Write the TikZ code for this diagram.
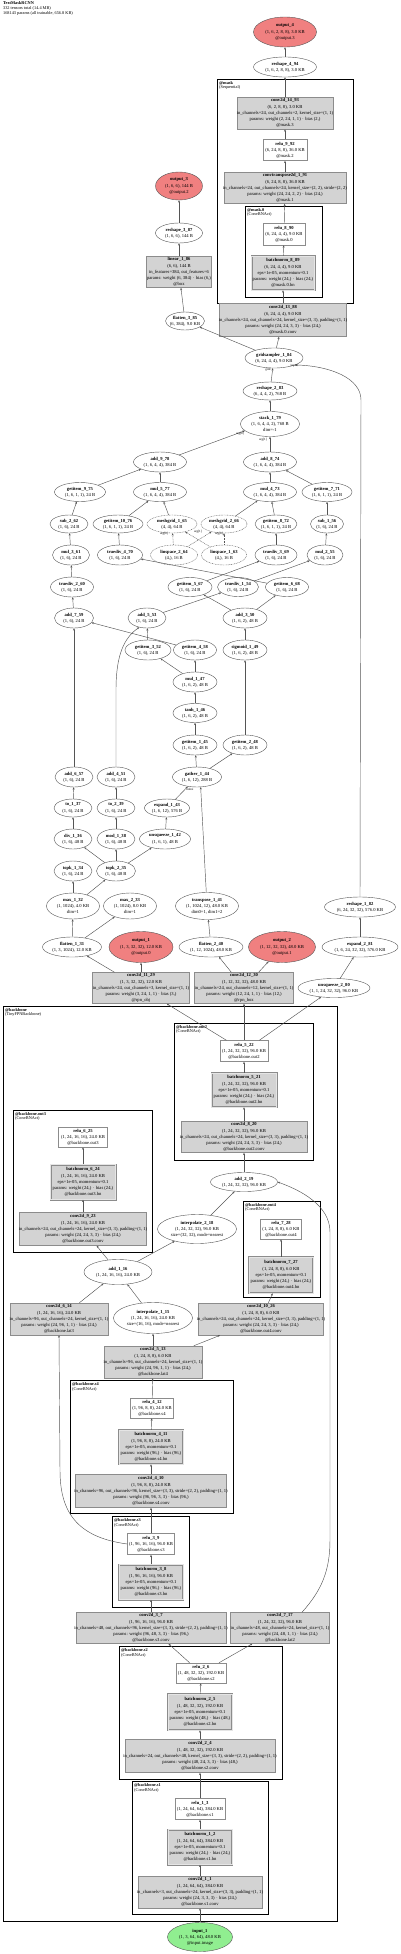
\documentclass[tikz,border=0pt]{standalone}
\usepackage{fontspec}
\setmainfont{Liberation Serif}
\usetikzlibrary{shapes.geometric,arrows.meta,calc}
\definecolor{boxfill}{HTML}{D3D3D3}
\definecolor{boxdraw}{HTML}{8C8C8C}
\definecolor{ellred}{HTML}{F08080}
\definecolor{ellgreen}{HTML}{90EE90}
\definecolor{edgecol}{HTML}{555555}
\tikzset{
  txt/.style={inner sep=0pt, align=center, font=\fontsize{4.6}{6.1}\selectfont},
  modbox/.style={rectangle, draw=boxdraw, fill=boxfill, line width=0.5pt, inner sep=0pt},
  relubox/.style={rectangle, draw=boxdraw, fill=white, line width=0.5pt, inner sep=0pt},
  bnbox/.style={rectangle, draw=boxdraw, fill=boxfill, double=boxfill!60, double distance=1pt, line width=0.5pt, inner sep=0pt},
  fn/.style={ellipse, draw=edgecol, fill=white, line width=0.4pt, inner sep=0pt},
  fndot/.style={fn, dash pattern=on 0.8pt off 0.8pt},
  outell/.style={fn, fill=ellred},
  inell/.style={fn, fill=ellgreen},
  cluster/.style={draw=black, line width=1.2pt},
  clab/.style={anchor=north west, inner sep=0pt, align=left, font=\fontsize{4.3}{4.8}\selectfont},
  edge/.style={draw=edgecol, line width=0.45pt, -{Stealth[length=2.4pt,width=2pt]}},
  edot/.style={edge, dash pattern=on 0.8pt off 0.8pt},
  elab/.style={font=\fontsize{3.2}{3.5}\selectfont, inner sep=0pt},
}
\newcommand{\Nd}[7]{\node[#1, minimum width=#5pt, minimum height=#6pt] (#2) at (#3,#4) {};
  \node[txt] (#2-t) at (#2) {#7};}
\newcommand{\Cl}[7]{\node[cluster, rectangle, inner sep=0pt, minimum width=#4pt, minimum height=#5pt, anchor=north west] (#1) at (#2,#3) {};
  \node[clab] (#1-l) at ([xshift=2pt,yshift=-2pt]#1.north west) {\textbf{#6}\\#7};}
\begin{document}
\begin{tikzpicture}[x=1pt,y=-1pt]
\useasboundingbox (0,0) rectangle (400,1954);
% title
\node[anchor=north west, inner sep=0pt, align=left, font=\fontsize{4.3}{4.8}\selectfont] (title) at (3,1.5)
  {\textbf{TextMaskRCNN}\\332 tensors total (14.4 MB)\\168143 params (all trainable, 656.8 KB)};
% clusters
\Cl{cmask}{217}{79}{136}{224}{@mask}{(Sequential)}
\Cl{cmask0}{245}{206}{77}{91}{@mask.0}{(ConvBNAct)}
\Cl{cbb}{3}{1006}{334}{915}{@backbone}{(TinyFPNBackbone)}
\Cl{cout2}{174}{1023}{139}{137}{@backbone.out2}{(ConvBNAct)}
\Cl{cout3}{13}{1110}{139}{142}{@backbone.out3}{(ConvBNAct)}
\Cl{cout4}{243}{1201}{77}{96}{@backbone.out4}{(ConvBNAct)}
\Cl{cs4}{70}{1380}{163}{133}{@backbone.s4}{(ConvBNAct)}
\Cl{cs3}{112}{1516}{77}{91}{@backbone.s3}{(ConvBNAct)}
\Cl{cs2}{119}{1646}{163}{133}{@backbone.s2}{(ConvBNAct)}
\Cl{cs1}{132}{1781}{136}{133}{@backbone.s1}{(ConvBNAct)}
% ---- mask head
\Nd{outell}{out4}{285}{32}{63}{30}{\textbf{output\_4}\\(1, 6, 2, 8, 8), 3.0 KB\\@output.3}
\Nd{fn}{resh4}{285}{67}{63}{20}{\textbf{reshape\_4\_94}\\(1, 6, 2, 8, 8), 3.0 KB}
\Nd{modbox}{conv14}{285}{113}{96}{32}{\textbf{conv2d\_14\_93}\\(6, 2, 8, 8), 3.0 KB\\in\_channels=24, out\_channels=2, kernel\_size=(1, 1)\\params: weight (2, 24, 1, 1) $\cdot$ bias (2,)\\@mask.3}
\Nd{relubox}{relu9}{285}{150}{44}{21}{\textbf{relu\_9\_92}\\(6, 24, 8, 8), 36.0 KB\\@mask.2}
\Nd{modbox}{convT}{285}{188}{122}{31}{\textbf{convtranspose2d\_1\_91}\\(6, 24, 8, 8), 36.0 KB\\in\_channels=24, out\_channels=24, kernel\_size=(2, 2), stride=(2, 2)\\params: weight (24, 24, 2, 2) $\cdot$ bias (24,)\\@mask.1}
\Nd{relubox}{relu8}{284}{234}{42}{22}{\textbf{relu\_8\_90}\\(6, 24, 4, 4), 9.0 KB\\@mask.0}
\Nd{bnbox}{bn8}{283}{273}{63}{34}{\textbf{batchnorm\_8\_89}\\(6, 24, 4, 4), 9.0 KB\\eps=1e-05, momentum=0.1\\params: weight (24,) $\cdot$ bias (24,)\\@mask.0.bn}
\Nd{modbox}{conv13}{283}{320}{127}{33}{\textbf{conv2d\_13\_88}\\(6, 24, 4, 4), 9.0 KB\\in\_channels=24, out\_channels=24, kernel\_size=(3, 3), padding=(1, 1)\\params: weight (24, 24, 3, 3) $\cdot$ bias (24,)\\@mask.0.conv}
% ---- box head
\Nd{outell}{out3}{179}{186}{47}{28}{\textbf{output\_3}\\(1, 6, 6), 144 B\\@output.2}
\Nd{fn}{resh3}{179}{233}{47}{20}{\textbf{reshape\_3\_87}\\(1, 6, 6), 144 B}
\Nd{modbox}{lin1}{179}{272}{65}{31}{\textbf{linear\_1\_86}\\(6, 6), 144 B\\in\_features=384, out\_features=6\\params: weight (6, 384) $\cdot$ bias (6,)\\@box}
\Nd{fn}{flat3}{185}{321}{39}{18}{\textbf{flatten\_3\_85}\\(6, 384), 9.0 KB}
\Nd{fn}{grid1}{274}{358}{58}{20}{\textbf{gridsampler\_1\_84}\\(6, 24, 4, 4), 9.0 KB}
\Nd{fn}{resh2}{270}{391}{54}{18}{\textbf{reshape\_2\_83}\\(6, 4, 4, 2), 768 B}
\Nd{fn}{stack1}{270}{424}{59}{25}{\textbf{stack\_1\_79}\\(1, 6, 4, 4, 2), 768 B\\dim=-1}
\Nd{fn}{add9}{160}{462}{53}{20}{\textbf{add\_9\_78}\\(1, 6, 4, 4), 384 B}
\Nd{fn}{add8}{270}{462}{53}{20}{\textbf{add\_8\_74}\\(1, 6, 4, 4), 384 B}
\Nd{fn}{gi9}{80}{492}{51}{19}{\textbf{getitem\_9\_75}\\(1, 6, 1, 1), 24 B}
\Nd{fn}{mul5}{160}{492}{53}{19}{\textbf{mul\_5\_77}\\(1, 6, 4, 4), 384 B}
\Nd{fn}{mul4}{270}{492}{53}{19}{\textbf{mul\_4\_73}\\(1, 6, 4, 4), 384 B}
\Nd{fn}{gi7}{327}{492}{50}{19}{\textbf{getitem\_7\_71}\\(1, 6, 1, 1), 24 B}
\Nd{fn}{sub2}{69}{524}{38}{18}{\textbf{sub\_2\_62}\\(1, 6), 24 B}
\Nd{fn}{gi10}{118}{524}{50}{18}{\textbf{getitem\_10\_76}\\(1, 6, 1, 1), 24 B}
\Nd{fndot}{mesh1}{172}{524}{50}{18}{\textbf{meshgrid\_1\_65}\\(4, 4), 64 B}
\Nd{fndot}{mesh2}{224}{524}{46}{18}{\textbf{meshgrid\_2\_66}\\(4, 4), 64 B}
\Nd{fn}{gi8}{276}{524}{42}{18}{\textbf{getitem\_8\_72}\\(1, 6, 1, 1), 24 B}
\Nd{fn}{sub1}{327}{524}{33}{18}{\textbf{sub\_1\_56}\\(1, 6), 24 B}
\Nd{fn}{mul3}{71}{555}{37}{20}{\textbf{mul\_3\_61}\\(1, 6), 24 B}
\Nd{fn}{tdiv4}{120}{555}{45}{20}{\textbf{truediv\_4\_70}\\(1, 6), 24 B}
\Nd{fndot}{lsp2}{174}{555}{47}{20}{\textbf{linspace\_2\_64}\\(4,), 16 B}
\Nd{fndot}{lsp1}{224}{555}{45}{20}{\textbf{linspace\_1\_63}\\(4,), 16 B}
\Nd{fn}{tdiv3}{276}{555}{42}{20}{\textbf{truediv\_3\_69}\\(1, 6), 24 B}
\Nd{fn}{mul2}{325}{555}{36}{20}{\textbf{mul\_2\_55}\\(1, 6), 24 B}
\Nd{fn}{tdiv2}{72}{587}{43}{20}{\textbf{truediv\_2\_60}\\(1, 6), 24 B}
\Nd{fn}{gi5}{190}{587}{44}{19}{\textbf{getitem\_5\_67}\\(1, 6), 24 B}
\Nd{fn}{tdiv1}{238}{587}{41}{19}{\textbf{truediv\_1\_54}\\(1, 6), 24 B}
\Nd{fn}{gi6}{287}{587}{43}{19}{\textbf{getitem\_6\_68}\\(1, 6), 24 B}
\Nd{fn}{add7}{74}{618}{39}{20}{\textbf{add\_7\_59}\\(1, 6), 24 B}
\Nd{fn}{add5}{147}{618}{38}{20}{\textbf{add\_5\_53}\\(1, 6), 24 B}
\Nd{fn}{add3}{245}{618}{44}{20}{\textbf{add\_3\_50}\\(1, 6, 2), 48 B}
\Nd{fn}{gi3}{148}{650}{46}{20}{\textbf{getitem\_3\_52}\\(1, 6), 24 B}
\Nd{fn}{gi4}{195}{650}{43}{20}{\textbf{getitem\_4\_58}\\(1, 6), 24 B}
\Nd{fn}{sig1}{245}{650}{44}{20}{\textbf{sigmoid\_1\_49}\\(1, 6, 2), 48 B}
\Nd{fn}{mul1}{195}{682}{44}{20}{\textbf{mul\_1\_47}\\(1, 6, 2), 48 B}
\Nd{fn}{tanh1}{195}{713}{44}{19}{\textbf{tanh\_1\_46}\\(1, 6, 2), 48 B}
\Nd{fn}{gi1}{195}{745}{44}{20}{\textbf{getitem\_1\_45}\\(1, 6, 2), 48 B}
\Nd{fn}{gi2}{245}{745}{44}{20}{\textbf{getitem\_2\_48}\\(1, 6, 2), 48 B}
\Nd{fn}{add6}{74}{777}{38}{20}{\textbf{add\_6\_57}\\(1, 6), 24 B}
\Nd{fn}{add4}{116}{777}{38}{20}{\textbf{add\_4\_51}\\(1, 6), 24 B}
\Nd{fn}{gather1}{197}{777}{49}{20}{\textbf{gather\_1\_44}\\(1, 6, 12), 288 B}
\Nd{fn}{to1}{73}{808}{38}{18}{\textbf{to\_1\_37}\\(1, 6), 24 B}
\Nd{fn}{to2}{116}{808}{38}{18}{\textbf{to\_2\_39}\\(1, 6), 24 B}
\Nd{fn}{exp1}{167}{808}{45}{18}{\textbf{expand\_1\_43}\\(1, 6, 12), 576 B}
\Nd{fn}{div1}{73}{839}{38}{20}{\textbf{div\_1\_36}\\(1, 6), 48 B}
\Nd{fn}{mod1}{116}{839}{38}{20}{\textbf{mod\_1\_38}\\(1, 6), 48 B}
\Nd{fn}{unsq1}{165}{839}{51}{20}{\textbf{unsqueeze\_1\_42}\\(1, 6, 1), 48 B}
\Nd{fn}{topk1}{73}{871}{38}{20}{\textbf{topk\_1\_34}\\(1, 6), 24 B}
\Nd{fn}{topk2}{116}{871}{39}{20}{\textbf{topk\_2\_35}\\(1, 6), 48 B}
\Nd{fn}{max1}{73}{906}{53}{26}{\textbf{max\_1\_32}\\(1, 1024), 4.0 KB\\dim=1}
\Nd{fn}{max2}{130}{906}{53}{26}{\textbf{max\_2\_33}\\(1, 1024), 8.0 KB\\dim=1}
\Nd{fn}{transp1}{207}{906}{63}{27}{\textbf{transpose\_1\_41}\\(1, 1024, 12), 48.0 KB\\dim0=1, dim1=2}
\Nd{fn}{resh1}{360}{907}{71}{20}{\textbf{reshape\_1\_82}\\(6, 24, 32, 32), 576.0 KB}
\Nd{fn}{flat1}{72}{947}{59}{20}{\textbf{flatten\_1\_31}\\(1, 3, 1024), 12.0 KB}
\Nd{outell}{out1}{141}{947}{64}{31}{\textbf{output\_1}\\(1, 3, 32, 32), 12.0 KB\\@output.0}
\Nd{fn}{flat2}{211}{947}{64}{20}{\textbf{flatten\_2\_40}\\(1, 12, 1024), 48.0 KB}
\Nd{outell}{out2}{282}{947}{67}{31}{\textbf{output\_2}\\(1, 12, 32, 32), 48.0 KB\\@output.1}
\Nd{fn}{exp2}{360}{947}{76}{20}{\textbf{expand\_2\_81}\\(1, 6, 24, 32, 32), 576.0 KB}
\Nd{modbox}{conv11}{141}{988}{97}{31}{\textbf{conv2d\_11\_29}\\(1, 3, 32, 32), 12.0 KB\\in\_channels=24, out\_channels=3, kernel\_size=(1, 1)\\params: weight (3, 24, 1, 1) $\cdot$ bias (3,)\\@rpn\_obj}
\Nd{modbox}{conv12}{244}{988}{99}{31}{\textbf{conv2d\_12\_30}\\(1, 12, 32, 32), 48.0 KB\\in\_channels=24, out\_channels=12, kernel\_size=(1, 1)\\params: weight (12, 24, 1, 1) $\cdot$ bias (12,)\\@rpn\_box}
\Nd{fn}{unsq2}{334}{988}{72}{19}{\textbf{unsqueeze\_2\_80}\\(1, 1, 24, 32, 32), 96.0 KB}
% ---- backbone
\Nd{relubox}{relu5}{244}{1051}{48}{21}{\textbf{relu\_5\_22}\\(1, 24, 32, 32), 96.0 KB\\@backbone.out2}
\Nd{bnbox}{bn5}{244}{1090}{65}{34}{\textbf{batchnorm\_5\_21}\\(1, 24, 32, 32), 96.0 KB\\eps=1e-05, momentum=0.1\\params: weight (24,) $\cdot$ bias (24,)\\@backbone.out2.bn}
\Nd{modbox}{conv8}{244}{1137}{126}{31}{\textbf{conv2d\_8\_20}\\(1, 24, 32, 32), 96.0 KB\\in\_channels=24, out\_channels=24, kernel\_size=(3, 3), padding=(1, 1)\\params: weight (24, 24, 3, 3) $\cdot$ bias (24,)\\@backbone.out2.conv}
\Nd{relubox}{relu6}{83}{1137}{49}{20}{\textbf{relu\_6\_25}\\(1, 24, 16, 16), 24.0 KB\\@backbone.out3}
\Nd{bnbox}{bn6}{83}{1182}{65}{35}{\textbf{batchnorm\_6\_24}\\(1, 24, 16, 16), 24.0 KB\\eps=1e-05, momentum=0.1\\params: weight (24,) $\cdot$ bias (24,)\\@backbone.out3.bn}
\Nd{modbox}{conv9}{83}{1229}{127}{33}{\textbf{conv2d\_9\_23}\\(1, 24, 16, 16), 24.0 KB\\in\_channels=24, out\_channels=24, kernel\_size=(3, 3), padding=(1, 1)\\params: weight (24, 24, 3, 3) $\cdot$ bias (24,)\\@backbone.out3.conv}
\Nd{fn}{add2}{244}{1182}{67}{19}{\textbf{add\_2\_19}\\(1, 24, 32, 32), 96.0 KB}
\Nd{relubox}{relu7}{281}{1229}{41}{20}{\textbf{relu\_7\_28}\\(1, 24, 8, 8), 6.0 KB\\@backbone.out4}
\Nd{bnbox}{bn7}{281}{1275}{64}{36}{\textbf{batchnorm\_7\_27}\\(1, 24, 8, 8), 6.0 KB\\eps=1e-05, momentum=0.1\\params: weight (24,) $\cdot$ bias (24,)\\@backbone.out4.bn}
\Nd{fn}{interp2}{197}{1229}{79}{29}{\textbf{interpolate\_2\_18}\\(1, 24, 32, 32), 96.0 KB\\size=(32, 32), mode=nearest}
\Nd{fn}{add1}{118}{1272}{68}{25}{\textbf{add\_1\_16}\\(1, 24, 16, 16), 24.0 KB}
\Nd{modbox}{conv6}{59}{1319}{98}{32}{\textbf{conv2d\_6\_14}\\(1, 24, 16, 16), 24.0 KB\\in\_channels=96, out\_channels=24, kernel\_size=(1, 1)\\params: weight (24, 96, 1, 1) $\cdot$ bias (24,)\\@backbone.lat3}
\Nd{fn}{interp1}{153}{1318}{79}{31}{\textbf{interpolate\_1\_15}\\(1, 24, 16, 16), 24.0 KB\\size=(16, 16), mode=nearest}
\Nd{modbox}{conv10}{261}{1319}{125}{32}{\textbf{conv2d\_10\_26}\\(1, 24, 8, 8), 6.0 KB\\in\_channels=24, out\_channels=24, kernel\_size=(3, 3), padding=(1, 1)\\params: weight (24, 24, 3, 3) $\cdot$ bias (24,)\\@backbone.out4.conv}
\Nd{modbox}{conv5}{153}{1362}{98}{32}{\textbf{conv2d\_5\_13}\\(1, 24, 8, 8), 6.0 KB\\in\_channels=96, out\_channels=24, kernel\_size=(1, 1)\\params: weight (24, 96, 1, 1) $\cdot$ bias (24,)\\@backbone.lat4}
\Nd{relubox}{relu4}{152}{1408}{43}{20}{\textbf{relu\_4\_12}\\(1, 96, 8, 8), 24.0 KB\\@backbone.s4}
\Nd{bnbox}{bn4}{151}{1447}{64}{34}{\textbf{batchnorm\_4\_11}\\(1, 96, 8, 8), 24.0 KB\\eps=1e-05, momentum=0.1\\params: weight (96,) $\cdot$ bias (96,)\\@backbone.s4.bn}
\Nd{modbox}{conv4}{151}{1491}{151}{33}{\textbf{conv2d\_4\_10}\\(1, 96, 8, 8), 24.0 KB\\in\_channels=96, out\_channels=96, kernel\_size=(3, 3), stride=(2, 2), padding=(1, 1)\\params: weight (96, 96, 3, 3) $\cdot$ bias (96,)\\@backbone.s4.conv}
\Nd{relubox}{relu3}{151}{1544}{47}{21}{\textbf{relu\_3\_9}\\(1, 96, 16, 16), 96.0 KB\\@backbone.s3}
\Nd{bnbox}{bn3}{151}{1582}{64}{35}{\textbf{batchnorm\_3\_8}\\(1, 96, 16, 16), 96.0 KB\\eps=1e-05, momentum=0.1\\params: weight (96,) $\cdot$ bias (96,)\\@backbone.s3.bn}
\Nd{modbox}{conv3}{151}{1628}{150}{31}{\textbf{conv2d\_3\_7}\\(1, 96, 16, 16), 96.0 KB\\in\_channels=48, out\_channels=96, kernel\_size=(3, 3), stride=(2, 2), padding=(1, 1)\\params: weight (96, 48, 3, 3) $\cdot$ bias (96,)\\@backbone.s3.conv}
\Nd{modbox}{conv7}{280}{1628}{99}{31}{\textbf{conv2d\_7\_17}\\(1, 24, 32, 32), 96.0 KB\\in\_channels=48, out\_channels=24, kernel\_size=(1, 1)\\params: weight (24, 48, 1, 1) $\cdot$ bias (24,)\\@backbone.lat2}
\Nd{relubox}{relu2}{201}{1673}{50}{20}{\textbf{relu\_2\_6}\\(1, 48, 32, 32), 192.0 KB\\@backbone.s2}
\Nd{bnbox}{bn2}{200}{1712}{64}{36}{\textbf{batchnorm\_2\_5}\\(1, 48, 32, 32), 192.0 KB\\eps=1e-05, momentum=0.1\\params: weight (48,) $\cdot$ bias (48,)\\@backbone.s2.bn}
\Nd{modbox}{conv2}{200}{1756}{150}{33}{\textbf{conv2d\_2\_4}\\(1, 48, 32, 32), 192.0 KB\\in\_channels=24, out\_channels=48, kernel\_size=(3, 3), stride=(2, 2), padding=(1, 1)\\params: weight (48, 24, 3, 3) $\cdot$ bias (48,)\\@backbone.s2.conv}
\Nd{relubox}{relu1}{200}{1809}{50}{21}{\textbf{relu\_1\_3}\\(1, 24, 64, 64), 384.0 KB\\@backbone.s1}
\Nd{bnbox}{bn1}{200}{1847}{64}{35}{\textbf{batchnorm\_1\_2}\\(1, 24, 64, 64), 384.0 KB\\eps=1e-05, momentum=0.1\\params: weight (24,) $\cdot$ bias (24,)\\@backbone.s1.bn}
\Nd{modbox}{conv1}{200}{1892}{124}{32}{\textbf{conv2d\_1\_1}\\(1, 24, 64, 64), 384.0 KB\\in\_channels=3, out\_channels=24, kernel\_size=(3, 3), padding=(1, 1)\\params: weight (24, 3, 3, 3) $\cdot$ bias (24,)\\@backbone.s1.conv}
\Nd{inell}{in1}{200}{1937}{65}{29}{\textbf{input\_1}\\(1, 3, 64, 64), 48.0 KB\\@input.image}
% ---- edges
\draw[edge] (resh4) -- (out4);
\draw[edge] (conv14) -- (resh4);
\draw[edge] (relu9) -- (conv14);
\draw[edge] (convT) -- (relu9);
\draw[edge] (relu8) -- (convT);
\draw[edge] (bn8) -- (relu8);
\draw[edge] (conv13) -- (bn8);
\draw[edge] (grid1) -- (conv13);
\draw[edge] (resh3) -- (out3);
\draw[edge] (lin1) -- (resh3);
\draw[edge] (flat3) -- (lin1);
\draw[edge] (grid1) -- (flat3);
\draw[edge] (resh2) -- (grid1);
\coordinate (gsr) at (361,400);
\draw[edge] (resh1.north) -- (gsr) .. controls (361,378) and (330,366) .. (grid1.-18);
\draw[edge] (stack1) -- (resh2);
\draw[edge] (add9) -- (stack1.-165);
\draw[edge] (add8) -- (stack1);
\draw[edge] (gi9) -- (add9);
\draw[edge] (mul5) -- (add9);
\draw[edge] (mul4) -- (add8);
\draw[edge] (gi7) -- (add8);
\draw[edge] (sub2) -- (gi9);
\draw[edge] (gi10) -- (mul5);
\draw[edge] (mesh1) -- (mul5);
\draw[edge] (gi8) -- (mul4);
\draw[edge] (mesh2) -- (mul4);
\draw[edge] (sub1) -- (gi7);
\draw[edge] (mul3) -- (sub2);
\draw[edge] (tdiv4) -- (gi10);
\draw[edot] (lsp2) -- (mesh1);
\draw[edot] (lsp1) -- (mesh1);
\draw[edot] (lsp2) -- (mesh2);
\draw[edot] (lsp1) -- (mesh2);
\draw[edge] (tdiv3) -- (gi8);
\draw[edge] (mul2) -- (sub1);
\draw[edge] (tdiv2) -- (mul3);
\draw[edge] (gi6) -- (tdiv4);
\draw[edge] (gi5) -- (tdiv3);
\draw[edge] (tdiv1) -- (mul2);
\draw[edge] (add7) -- (tdiv2);
\draw[edge] (add3) -- (gi5);
\draw[edge] (add3) -- (gi6);
\draw[edge] (add5) -- (tdiv1);
\draw[edge] (add6) -- (add7);
\draw[edge] (gi4) -- (add7);
\draw[edge] (gi3) -- (add5);
\draw[edge] (add4.north) -- (116,690) .. controls (116,655) and (124,638) .. (add5.-130);
\draw[edge] (sig1) -- (add3);
\draw[edge] (mul1) -- (gi3);
\draw[edge] (mul1) -- (gi4);
\draw[edge] (gi2) -- (sig1);
\draw[edge] (tanh1) -- (mul1);
\draw[edge] (gi1) -- (tanh1);
\draw[edge] (gather1) -- (gi1);
\draw[edge] (gather1) -- (gi2);
\draw[edge] (to1) -- (add6);
\draw[edge] (to2) -- (add4);
\draw[edge] (exp1) -- (gather1);
\draw[edge] (transp1) -- (gather1.-70);
\draw[edge] (div1) -- (to1);
\draw[edge] (mod1) -- (to2);
\draw[edge] (unsq1) -- (exp1);
\draw[edge] (topk2) -- (div1);
\draw[edge] (topk2) -- (mod1);
\draw[edge] (topk2) -- (unsq1);
\draw[edge] (max1) -- (topk1);
\draw[edge] (max1) -- (topk2);
\draw[edge] (flat1) -- (max1);
\draw[edge] (flat1) -- (max2);
\draw[edge] (flat2) -- (transp1);
\draw[edge] (conv11) -- (flat1);
\draw[edge] (conv11) -- (out1);
\draw[edge] (conv12) -- (flat2);
\draw[edge] (conv12) -- (out2);
\draw[edge] (exp2) -- (resh1);
\draw[edge] (unsq2) -- (exp2);
\draw[edge] (relu5) -- (conv11);
\draw[edge] (relu5) -- (conv12);
\draw[edge] (relu5) -- (unsq2);
\draw[edge] (bn5) -- (relu5);
\draw[edge] (conv8) -- (bn5);
\draw[edge] (add2) -- (conv8);
\draw[edge] (bn6) -- (relu6);
\draw[edge] (conv9) -- (bn6);
\draw[edge] (add1) -- (conv9);
\draw[edge] (interp2) -- (add2);
\draw[edge] ([xshift=22pt]conv7.north) .. controls (322,1590) and (330,1570) .. (330,1540) -- (330,1232) .. controls (330,1205) and (300,1190) .. (add2.east);
\draw[edge] (bn7) -- (relu7);
\draw[edge] (conv10) -- (bn7);
\draw[edge] (add1) -- (interp2);
\draw[edge] (conv6) -- (add1);
\draw[edge] (interp1) -- (add1);
\draw[edge] (conv5) -- (interp1);
\draw[edge] (conv5) -- (conv10);
\draw[edge] (relu4) -- (conv5);
\draw[edge] (bn4) -- (relu4);
\draw[edge] (conv4) -- (bn4);
\draw[edge] (relu3) -- (conv4);
\draw[edge] (relu3.west) .. controls (75,1537) and (60,1510) .. (60,1470) -- (conv6.south);
\draw[edge] (bn3) -- (relu3);
\draw[edge] (conv3) -- (bn3);
\draw[edge] (relu2) -- (conv3);
\draw[edge] (relu2) -- (conv7);
\draw[edge] (bn2) -- (relu2);
\draw[edge] (conv2) -- (bn2);
\draw[edge] (relu1) -- (conv2);
\draw[edge] (bn1) -- (relu1);
\draw[edge] (conv1) -- (bn1);
\draw[edge] (in1) -- (conv1);
% edge labels
\node[elab] (l-g1) at (268,370) {grid};
\node[elab] (l-g2) at (294,366) {input};
\node[elab] (l-s1) at (240,434) {arg[0]};
\node[elab] (l-s2) at (263,440) {arg[1]};
\node[elab] (l-m1) at (164,534) {arg[0]};
\node[elab] (l-m2) at (219,534) {arg[0]};
\node[elab] (l-m3) at (198,532) {arg[1]};
\node[elab] (l-ga) at (190,789) {index};
\end{tikzpicture}
\end{document}
